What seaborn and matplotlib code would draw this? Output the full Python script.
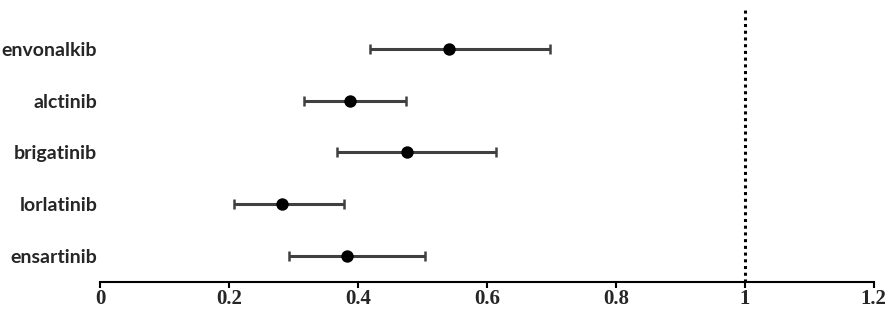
import matplotlib
matplotlib.use("Agg")
import matplotlib.pyplot as plt
import seaborn as sns
import pandas as pd

# ── Data (hazard ratio, 95% CI) ──────────────────────
drugs = ["envonalkib", "alctinib", "brigatinib", "lorlatinib", "ensartinib"]
hr    = [0.542, 0.387, 0.476, 0.282, 0.383]
ci_lo = [0.418, 0.317, 0.368, 0.207, 0.293]
ci_hi = [0.698, 0.474, 0.614, 0.379, 0.504]
xticks = [0, 0.2, 0.4, 0.6, 0.8, 1, 1.2]
xtick_labels = ["0", "0.2", "0.4", "0.6", "0.8", "1", "1.2"]

df = pd.DataFrame({"drug": drugs, "hr": hr, "lo": ci_lo, "hi": ci_hi})

sns.set_style("white")
plt.rcParams["font.family"] = ["Lato", "DejaVu Sans"]

fig, ax = plt.subplots(figsize=(8.86, 3.09), dpi=100)
fig.subplots_adjust(left=0.113, right=0.986, top=0.985, bottom=0.087)

ypos = list(range(len(drugs)))
ax.errorbar(
    df["hr"], ypos,
    xerr=[df["hr"] - df["lo"], df["hi"] - df["hr"]],
    fmt="none", ecolor="#404040", elinewidth=2.2,
    capsize=3.5, capthick=1.8, zorder=2
)
sns.scatterplot(
    x=df["hr"], y=ypos, ax=ax, color="black",
    s=80, edgecolor="black", linewidth=0, zorder=3, legend=False
)

# reference line at HR = 1
ax.axvline(1, color="black", linestyle=(0, (1, 1.2)), linewidth=2.2,
           ymax=0.985, zorder=1)

ax.set_xlim(0, 1.2)
ax.set_ylim(4.5, -0.85)
ax.set_yticks(ypos)
ax.set_yticklabels(drugs, fontsize=14, fontweight="bold")
ax.set_xticks(xticks)
ax.set_xticklabels(xtick_labels, fontsize=15, fontweight="bold",
                   family=["Liberation Serif", "DejaVu Serif"])
ax.tick_params(axis="y", length=0, pad=2)
ax.tick_params(axis="x", direction="out", length=4, width=1.5,
               color="black", pad=1, bottom=True)
ax.set_xlabel("")
ax.set_ylabel("")

for side in ["top", "right", "left"]:
    ax.spines[side].set_visible(False)
ax.spines["bottom"].set_color("black")
ax.spines["bottom"].set_linewidth(1.5)

plt.savefig("out.png", dpi=100)
plt.close()
